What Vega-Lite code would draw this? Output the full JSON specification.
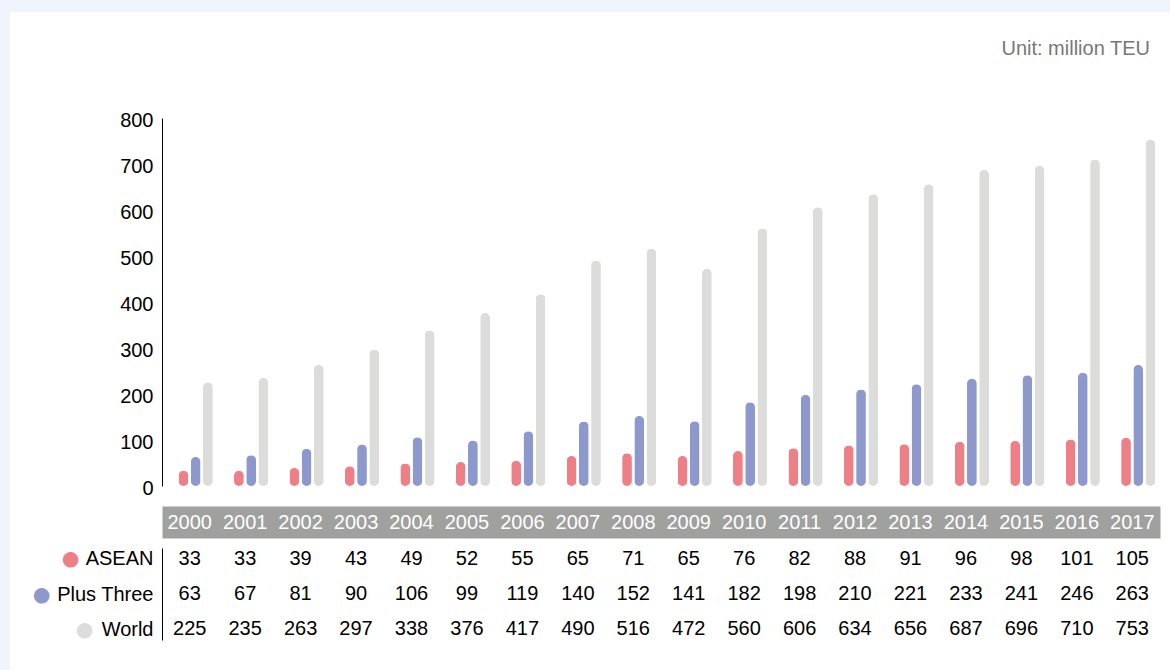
{
  "$schema": "https://vega.github.io/schema/vega-lite/v6.json",
  "width": 1170,
  "height": 670,
  "autosize": {"type": "fit", "contains": "padding"},
  "padding": {"left": 10, "top": 12, "right": 0, "bottom": 0},
  "background": "#f0f5fd",
  "title": {
    "text": "Unit: million TEU",
    "anchor": "end",
    "orient": "top",
    "frame": "group",
    "offset": -57,
    "baseline": "middle",
    "dx": -20,
    "fontSize": 20,
    "fontWeight": "normal",
    "font": "Liberation Sans",
    "color": "#777777"
  },
  "config": {
    "font": "Liberation Sans",
    "view": {"fill": "#ffffff", "stroke": null},
    "axis": {"labelFont": "Liberation Sans", "labelFontSize": 20, "grid": false, "title": null}
  },
  "data": {
    "values": [
      {"year": "2000", "series": "ASEAN", "value": 33},
      {"year": "2001", "series": "ASEAN", "value": 33},
      {"year": "2002", "series": "ASEAN", "value": 39},
      {"year": "2003", "series": "ASEAN", "value": 43},
      {"year": "2004", "series": "ASEAN", "value": 49},
      {"year": "2005", "series": "ASEAN", "value": 52},
      {"year": "2006", "series": "ASEAN", "value": 55},
      {"year": "2007", "series": "ASEAN", "value": 65},
      {"year": "2008", "series": "ASEAN", "value": 71},
      {"year": "2009", "series": "ASEAN", "value": 65},
      {"year": "2010", "series": "ASEAN", "value": 76},
      {"year": "2011", "series": "ASEAN", "value": 82},
      {"year": "2012", "series": "ASEAN", "value": 88},
      {"year": "2013", "series": "ASEAN", "value": 91},
      {"year": "2014", "series": "ASEAN", "value": 96},
      {"year": "2015", "series": "ASEAN", "value": 98},
      {"year": "2016", "series": "ASEAN", "value": 101},
      {"year": "2017", "series": "ASEAN", "value": 105},
      {"year": "2000", "series": "Plus Three", "value": 63},
      {"year": "2001", "series": "Plus Three", "value": 67},
      {"year": "2002", "series": "Plus Three", "value": 81},
      {"year": "2003", "series": "Plus Three", "value": 90},
      {"year": "2004", "series": "Plus Three", "value": 106},
      {"year": "2005", "series": "Plus Three", "value": 99},
      {"year": "2006", "series": "Plus Three", "value": 119},
      {"year": "2007", "series": "Plus Three", "value": 140},
      {"year": "2008", "series": "Plus Three", "value": 152},
      {"year": "2009", "series": "Plus Three", "value": 141},
      {"year": "2010", "series": "Plus Three", "value": 182},
      {"year": "2011", "series": "Plus Three", "value": 198},
      {"year": "2012", "series": "Plus Three", "value": 210},
      {"year": "2013", "series": "Plus Three", "value": 221},
      {"year": "2014", "series": "Plus Three", "value": 233},
      {"year": "2015", "series": "Plus Three", "value": 241},
      {"year": "2016", "series": "Plus Three", "value": 246},
      {"year": "2017", "series": "Plus Three", "value": 263},
      {"year": "2000", "series": "World", "value": 225},
      {"year": "2001", "series": "World", "value": 235},
      {"year": "2002", "series": "World", "value": 263},
      {"year": "2003", "series": "World", "value": 297},
      {"year": "2004", "series": "World", "value": 338},
      {"year": "2005", "series": "World", "value": 376},
      {"year": "2006", "series": "World", "value": 417},
      {"year": "2007", "series": "World", "value": 490},
      {"year": "2008", "series": "World", "value": 516},
      {"year": "2009", "series": "World", "value": 472},
      {"year": "2010", "series": "World", "value": 560},
      {"year": "2011", "series": "World", "value": 606},
      {"year": "2012", "series": "World", "value": 634},
      {"year": "2013", "series": "World", "value": 656},
      {"year": "2014", "series": "World", "value": 687},
      {"year": "2015", "series": "World", "value": 696},
      {"year": "2016", "series": "World", "value": 710},
      {"year": "2017", "series": "World", "value": 753}
    ]
  },
  "layer": [
    {
      "mark": {"type": "bar", "cornerRadius": 5},
      "encoding": {
        "x": {
          "field": "year",
          "type": "nominal",
          "scale": {"range": [152, 1150], "paddingInner": 0, "paddingOuter": 0},
          "axis": {
            "orient": "bottom",
            "offset": -148,
            "domainColor": "#a0a19f",
            "domainWidth": 32,
            "ticks": false,
            "labels": false,
            "zindex": 0
          }
        },
        "xOffset": {
          "field": "series",
          "type": "nominal",
          "scale": {"domain": ["ASEAN", "Plus Three", "World"], "paddingInner": 0.2, "paddingOuter": 0.87, "align": 0.78}
        },
        "y": {
          "field": "value",
          "type": "quantitative",
          "scale": {"domain": [0, 800], "range": [474, 106], "nice": false},
          "axis": {
            "orient": "left",
            "offset": -152,
            "values": [0, 100, 200, 300, 400, 500, 600, 700, 800],
            "domainColor": "#000000",
            "domainWidth": 1,
            "ticks": false,
            "tickSize": 0,
            "labelPadding": 9,
            "labelOffset": 2,
            "labelColor": "#000000"
          }
        },
        "color": {
          "field": "series",
          "type": "nominal",
          "scale": {"domain": ["ASEAN", "Plus Three", "World"], "range": ["#ef7f87", "#8d99cc", "#dcdddb"]},
          "legend": null
        }
      }
    },
    {
      "mark": {"type": "text", "fontSize": 20, "color": "#000000", "font": "Liberation Sans"},
      "encoding": {
        "x": {
          "field": "year",
          "type": "nominal",
          "axis": {
            "orient": "bottom",
            "offset": -148,
            "domain": false,
            "ticks": false,
            "tickSize": 0,
            "labelPadding": 0,
            "labelBaseline": "middle",
            "labelAngle": 0,
            "labelColor": "#ffffff",
            "labelOverlap": false,
            "zindex": 2
          }
        },
        "y": {
          "field": "series",
          "type": "nominal",
          "scale": {"type": "point", "domain": ["ASEAN", "Plus Three", "World"], "range": [536, 628], "padding": 0.314},
          "axis": {
            "orient": "left",
            "offset": -152,
            "domain": true,
            "domainColor": "#000000",
            "domainWidth": 1,
            "ticks": false,
            "tickSize": 0,
            "labelPadding": 9,
            "labelColor": "#000000"
          }
        },
        "text": {"field": "value", "type": "quantitative"}
      }
    },
    {
      "mark": {"type": "text", "fontSize": 20, "opacity": 0},
      "encoding": {
        "y": {
          "field": "series",
          "type": "nominal",
          "scale": {"type": "point", "domain": ["ASEAN", "Plus Three", "World"], "range": [536, 628], "padding": 0.314},
          "axis": {
            "orient": "left",
            "offset": -152,
            "domain": false,
            "ticks": false,
            "tickSize": 0,
            "labelPadding": 81,
            "labelFontSize": 36,
            "labelBaseline": "middle",
            "labelExpr": "datum.value === 'ASEAN' ? '●' : ''",
            "labelColor": "#ef7f87"
          }
        },
        "text": {"field": "value", "type": "quantitative"}
      }
    },
    {
      "mark": {"type": "text", "fontSize": 20, "opacity": 0},
      "encoding": {
        "y": {
          "field": "series",
          "type": "nominal",
          "scale": {"type": "point", "domain": ["ASEAN", "Plus Three", "World"], "range": [536, 628], "padding": 0.314},
          "axis": {
            "orient": "left",
            "offset": -152,
            "domain": false,
            "ticks": false,
            "tickSize": 0,
            "labelPadding": 110,
            "labelFontSize": 36,
            "labelBaseline": "middle",
            "labelExpr": "datum.value === 'Plus Three' ? '●' : ''",
            "labelColor": "#8d99cc"
          }
        },
        "text": {"field": "value", "type": "quantitative"}
      }
    },
    {
      "mark": {"type": "text", "fontSize": 20, "opacity": 0},
      "encoding": {
        "y": {
          "field": "series",
          "type": "nominal",
          "scale": {"type": "point", "domain": ["ASEAN", "Plus Three", "World"], "range": [536, 628], "padding": 0.314},
          "axis": {
            "orient": "left",
            "offset": -152,
            "domain": false,
            "ticks": false,
            "tickSize": 0,
            "labelPadding": 67,
            "labelFontSize": 36,
            "labelBaseline": "middle",
            "labelExpr": "datum.value === 'World' ? '●' : ''",
            "labelColor": "#dcdddb"
          }
        },
        "text": {"field": "value", "type": "quantitative"}
      }
    }
  ],
  "resolve": {"scale": {"y": "independent"}, "axis": {"y": "independent", "x": "independent"}}
}
